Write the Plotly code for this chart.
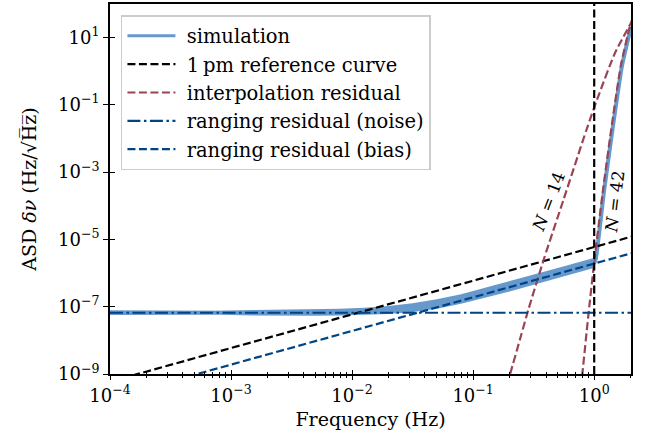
import plotly.graph_objects as go

# ---------------- data ----------------
# simulation: noisy band (lower / upper envelope) and its centre line
sim_freq = [1e-4, 2.0e-4, 3.98e-4, 7.94e-4, 1.58e-3, 3.16e-3, 5.01e-3, 7.94e-3,
            1.26e-2, 2.0e-2, 3.16e-2, 5.01e-2, 7.94e-2, 0.126, 0.2, 0.316, 0.5,
            0.794, 0.977]
sim_lo = [5.62e-8, 5.75e-8, 5.62e-8, 5.75e-8, 5.50e-8, 5.37e-8, 5.37e-8, 5.50e-8,
          5.62e-8, 6.03e-8, 6.92e-8, 8.71e-8, 1.23e-7, 1.82e-7, 2.82e-7, 4.47e-7,
          7.08e-7, 1.12e-6, 1.38e-6]
sim_hi = [7.76e-8, 7.59e-8, 7.76e-8, 7.59e-8, 7.94e-8, 8.13e-8, 8.51e-8, 8.71e-8,
          9.33e-8, 1.05e-7, 1.26e-7, 1.66e-7, 2.34e-7, 3.63e-7, 5.62e-7, 8.91e-7,
          1.41e-6, 2.24e-6, 2.75e-6]
sim_mid = [6.61e-8, 6.61e-8, 6.61e-8, 6.61e-8, 6.61e-8, 6.61e-8, 6.76e-8, 6.92e-8,
           7.24e-8, 7.94e-8, 9.33e-8, 1.20e-7, 1.70e-7, 2.57e-7, 3.98e-7, 6.31e-7,
           1.0e-6, 1.58e-6, 1.95e-6]
# simulation: steep rise above 1 Hz
sim_rise_freq = [0.977, 1.0, 1.03, 1.202, 1.413, 1.698, 2.014]
sim_rise_asd = [1.95e-6, 2.0e-6, 2.57e-6, 2.45e-4, 1.74e-2, 1.45, 20.4]

# 1 pm reference curve
ref_freq = [1e-4, 2.05]
ref_asd = [5.9e-10, 1.21e-5]

# interpolation residual, N = 14 and N = 42
interp14_freq = [0.19, 0.202, 0.249, 0.285, 0.386, 0.556, 0.861, 1.076, 1.479, 2.03]
interp14_asd = [4.8e-10, 1e-9, 1.41e-8, 7.9e-8, 2.75e-6, 1.45e-4, 1.74e-2, 0.17, 3.31, 28.2]
interp42_freq = [0.776, 0.798, 0.891, 1.007, 1.175, 1.380, 1.660, 1.968, 2.089]
interp42_asd = [4.0e-10, 1e-9, 4.8e-8, 2.57e-6, 2.45e-4, 1.74e-2, 1.45, 20.4, 39.8]

# ranging residuals
noise_freq = [1e-4, 2.05]
noise_asd = [6.6e-8, 6.6e-8]
bias_freq = [1e-4, 2.05]
bias_asd = [1.9e-10, 3.9e-6]

cutoff_freq = 1.0

# tick labels
x_tickvals = [1e-4, 1e-3, 1e-2, 1e-1, 1e0]
x_ticktext = ["10<sup>\u22124</sup>", "10<sup>\u22123</sup>", "10<sup>\u22122</sup>",
              "10<sup>\u22121</sup>", "10<sup>0</sup>"]
y_tickvals = [1e-9, 1e-7, 1e-5, 1e-3, 1e-1, 1e1]
y_ticktext = ["10<sup>\u22129</sup>", "10<sup>\u22127</sup>", "10<sup>\u22125</sup>",
              "10<sup>\u22123</sup>", "10<sup>\u22121</sup>", "10<sup>1</sup>"]

# ---------------- styling ----------------
FONT = "DejaVu Serif"
C_SIM = "#6699CC"
C_INT = "#994455"
C_RNG = "#004488"
DASH = "8px,3.5px"
DASHDOT = "13px,3.5px,2.5px,3.5px"
PAD = "\u00a0"

fig = go.Figure()

# simulation band
fig.add_trace(go.Scatter(x=sim_freq, y=sim_lo, mode="lines", line=dict(width=0, color=C_SIM),
                         showlegend=False, hoverinfo="skip"))
fig.add_trace(go.Scatter(x=sim_freq, y=sim_hi, mode="lines", line=dict(width=0, color=C_SIM),
                         fill="tonexty", fillcolor=C_SIM, showlegend=False, hoverinfo="skip"))
fig.add_trace(go.Scatter(x=sim_freq, y=sim_mid, mode="lines", name=PAD + "simulation",
                         line=dict(color=C_SIM, width=3)))
fig.add_trace(go.Scatter(x=sim_rise_freq, y=sim_rise_asd, mode="lines", showlegend=False,
                         line=dict(color=C_SIM, width=4, shape="spline", smoothing=0.5)))

# reference curve
fig.add_trace(go.Scatter(x=ref_freq, y=ref_asd, mode="lines",
                         name=PAD + "1\u2009pm reference curve",
                         line=dict(color="black", width=2.2, dash=DASH)))
# interpolation residuals
fig.add_trace(go.Scatter(x=interp14_freq, y=interp14_asd, mode="lines",
                         name=PAD + "interpolation residual",
                         line=dict(color=C_INT, width=2.2, dash=DASH, shape="spline", smoothing=0.6)))
fig.add_trace(go.Scatter(x=interp42_freq, y=interp42_asd, mode="lines", showlegend=False,
                         line=dict(color=C_INT, width=2.2, dash=DASH, shape="spline", smoothing=0.6)))
# ranging residuals
fig.add_trace(go.Scatter(x=noise_freq, y=noise_asd, mode="lines",
                         name=PAD + "ranging residual (noise)",
                         line=dict(color=C_RNG, width=2.2, dash=DASHDOT)))
fig.add_trace(go.Scatter(x=bias_freq, y=bias_asd, mode="lines",
                         name=PAD + "ranging residual (bias)",
                         line=dict(color=C_RNG, width=2.2, dash=DASH)))

# dummy traces so the overlay axes (inward ticks) are created
fig.add_trace(go.Scatter(x=[], y=[], xaxis="x2", yaxis="y", showlegend=False))
fig.add_trace(go.Scatter(x=[], y=[], xaxis="x", yaxis="y2", showlegend=False))

fig.add_vline(x=cutoff_freq, line=dict(color="black", width=2.2, dash=DASH))

XR = [-4, 0.304]
YR = [-9, 1.99]

fig.update_layout(
    width=648, height=445,
    margin=dict(l=110, r=17, t=4, b=71),
    paper_bgcolor="white", plot_bgcolor="white",
    font=dict(family=FONT, size=18, color="black"),
    showlegend=True,
    legend=dict(x=0.021, y=0.97, xanchor="left", yanchor="top", traceorder="normal",
                bgcolor="rgba(255,255,255,0.85)", bordercolor="#cccccc", borderwidth=1.5,
                font=dict(family=FONT, size=19.5), itemwidth=48, tracegroupgap=0),
    xaxis=dict(type="log", range=XR, tickmode="array", tickvals=x_tickvals, ticktext=x_ticktext,
               showline=True, linecolor="black", linewidth=1.8, mirror=True,
               ticks="outside", ticklen=4, tickwidth=1.4, tickcolor="black",
               minor=dict(ticks="outside", ticklen=2.5, tickwidth=1.1, tickcolor="black",
                          dtick="D1", showgrid=False),
               showgrid=False, zeroline=False, automargin=False,
               title=dict(text="Frequency (Hz)", font=dict(family=FONT, size=19), standoff=8),
               tickfont=dict(family=FONT, size=18)),
    xaxis2=dict(type="log", range=XR, overlaying="x", anchor="y", side="bottom",
                tickmode="array", tickvals=x_tickvals,
                showline=False, ticks="inside", ticklen=4, tickwidth=1.4, tickcolor="black",
                minor=dict(ticks="inside", ticklen=2.5, tickwidth=1.1, tickcolor="black",
                           dtick="D1", showgrid=False),
                showticklabels=False, showgrid=False, zeroline=False, automargin=False),
    yaxis=dict(type="log", range=YR, tickmode="array", tickvals=y_tickvals, ticktext=y_ticktext,
               showline=True, linecolor="black", linewidth=1.8, mirror=True,
               ticks="outside", ticklen=5, tickwidth=1.4, tickcolor="black",
               showgrid=False, zeroline=False, automargin=False,
               title=dict(text="ASD <i>\u03b4\u03bd</i> (Hz/\u221aH\u0305z\u0305)",
                          font=dict(family=FONT, size=19), standoff=16),
               tickfont=dict(family=FONT, size=18)),
    yaxis2=dict(type="log", range=YR, overlaying="y", anchor="x", side="left",
                tickmode="array", tickvals=y_tickvals,
                showline=False, ticks="inside", ticklen=5, tickwidth=1.4, tickcolor="black",
                showticklabels=False, showgrid=False, zeroline=False, automargin=False),
    annotations=[
        dict(text="<i>N</i> = 14", xref="paper", yref="paper", x=0.841, y=0.466,
             xanchor="center", yanchor="middle",
             showarrow=False, textangle=-69, font=dict(family=FONT, size=17)),
        dict(text="<i>N</i> = 42", xref="paper", yref="paper", x=0.968, y=0.466,
             xanchor="center", yanchor="middle",
             showarrow=False, textangle=-83, font=dict(family=FONT, size=17)),
    ],
)

fig.write_html("out.html", config={"displayModeBar": False},
               post_script="document.body.style.margin='0px';")
